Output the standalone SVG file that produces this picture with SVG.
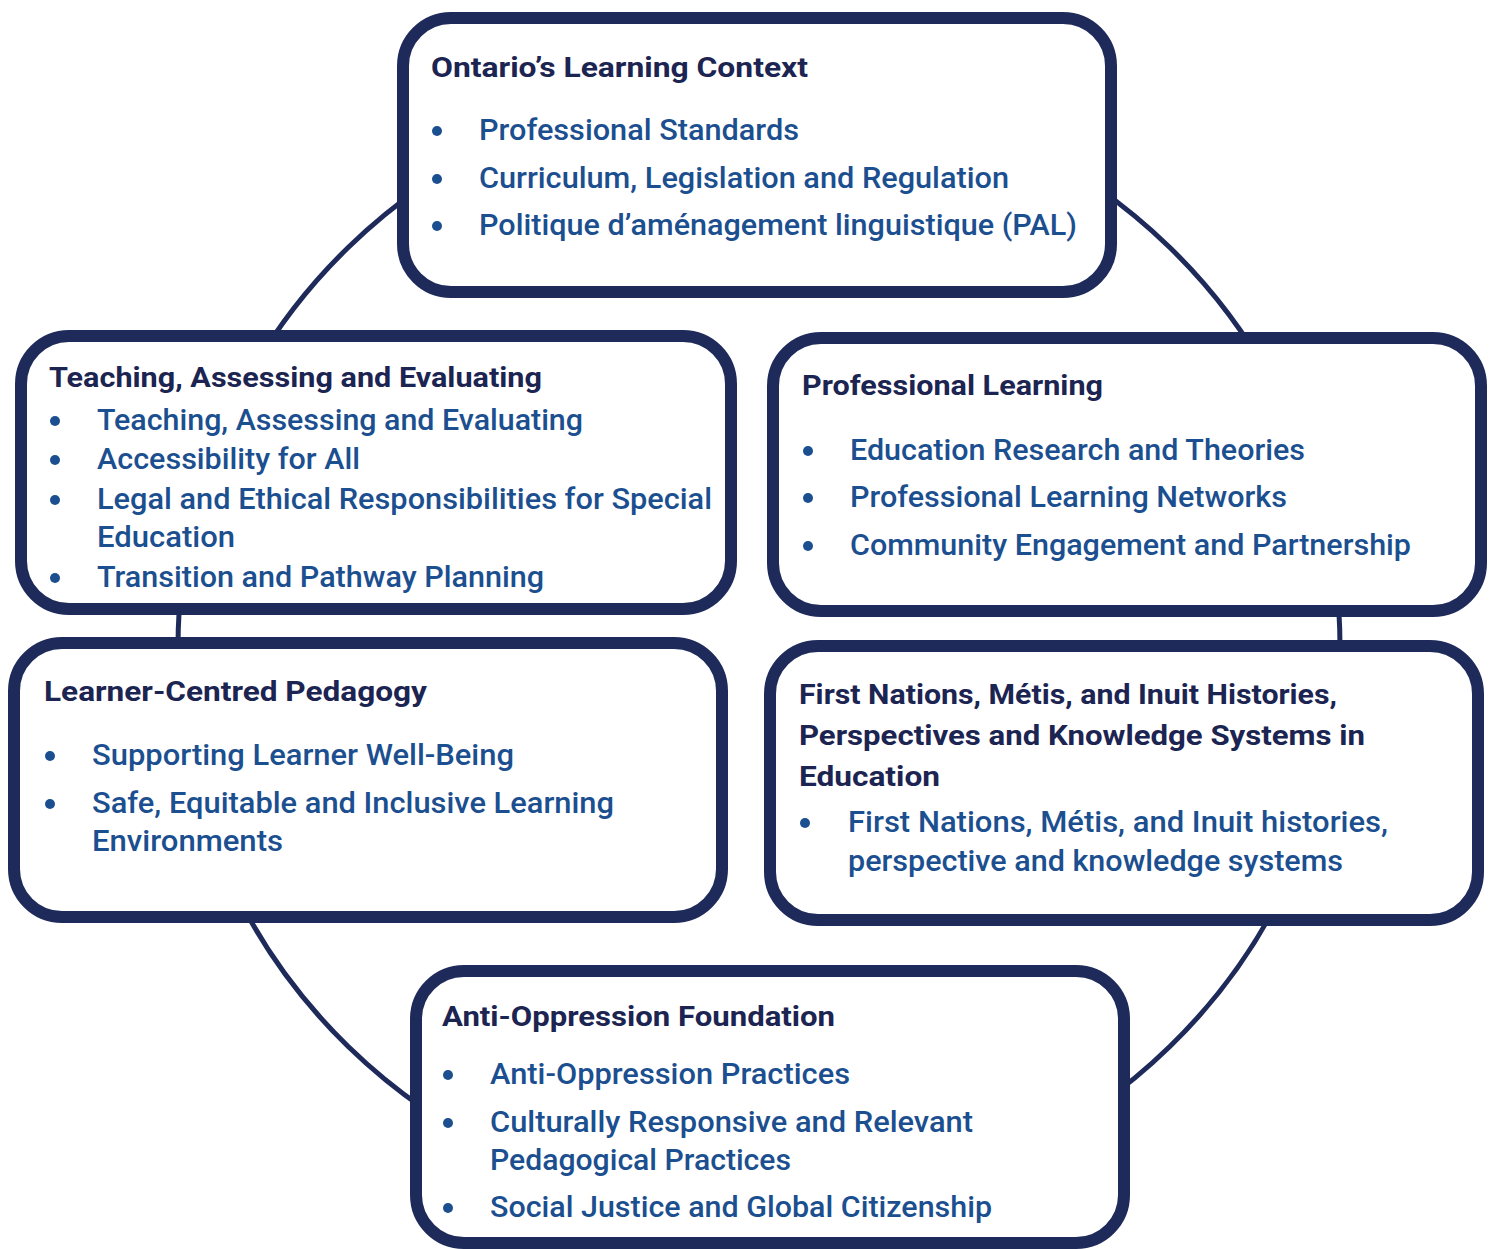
<svg xmlns="http://www.w3.org/2000/svg" width="1489" height="1249" viewBox="0 0 1489 1249">
<style>
.box{fill:#ffffff;stroke:#1e2a5a;stroke-width:12}
.ring{fill:none;stroke:#1e2a5a;stroke-width:5}
.t{font-family:Roboto,"Liberation Sans",sans-serif;font-size:28px;font-weight:700;fill:#1c2452}
.b{font-family:Roboto,"Liberation Sans",sans-serif;font-size:29px;font-weight:500;fill:#1b4f8f}
.dot{fill:#1b4f8f}
</style>
<rect width="1489" height="1249" fill="#ffffff"/>
<g id="connectors">
<ellipse class="ring" cx="759" cy="647" rx="581" ry="565"/>
</g>
<g id="node-ontario">
<rect class="box" x="403" y="18" width="708" height="274" rx="48"/>
<text class="t" x="431" y="77" textLength="377" lengthAdjust="spacingAndGlyphs">Ontario’s Learning Context</text>
<circle class="dot" cx="437" cy="131" r="5"/>
<text class="b" x="479" y="140" textLength="320" lengthAdjust="spacingAndGlyphs">Professional Standards</text>
<circle class="dot" cx="437" cy="179" r="5"/>
<text class="b" x="479" y="188" textLength="530" lengthAdjust="spacingAndGlyphs">Curriculum, Legislation and Regulation</text>
<circle class="dot" cx="437" cy="226" r="5"/>
<text class="b" x="479" y="235" textLength="598" lengthAdjust="spacingAndGlyphs">Politique d’aménagement linguistique (PAL)</text>
</g>
<g id="node-teaching">
<rect class="box" x="21" y="336" width="710" height="273" rx="48"/>
<text class="t" x="49" y="387" textLength="493" lengthAdjust="spacingAndGlyphs">Teaching, Assessing and Evaluating</text>
<circle class="dot" cx="55" cy="421" r="5"/>
<text class="b" x="97" y="430" textLength="486" lengthAdjust="spacingAndGlyphs">Teaching, Assessing and Evaluating</text>
<circle class="dot" cx="55" cy="460" r="5"/>
<text class="b" x="97" y="469" textLength="263" lengthAdjust="spacingAndGlyphs">Accessibility for All</text>
<circle class="dot" cx="55" cy="500" r="5"/>
<text class="b" x="97" y="509" textLength="615" lengthAdjust="spacingAndGlyphs">Legal and Ethical Responsibilities for Special</text>
<text class="b" x="97" y="547" textLength="138" lengthAdjust="spacingAndGlyphs">Education</text>
<circle class="dot" cx="55" cy="578" r="5"/>
<text class="b" x="97" y="587" textLength="447" lengthAdjust="spacingAndGlyphs">Transition and Pathway Planning</text>
</g>
<g id="node-professional">
<rect class="box" x="773" y="338" width="708" height="273" rx="48"/>
<text class="t" x="802" y="395" textLength="301" lengthAdjust="spacingAndGlyphs">Professional Learning</text>
<circle class="dot" cx="808" cy="451" r="5"/>
<text class="b" x="850" y="460" textLength="455" lengthAdjust="spacingAndGlyphs">Education Research and Theories</text>
<circle class="dot" cx="808" cy="498" r="5"/>
<text class="b" x="850" y="507" textLength="437" lengthAdjust="spacingAndGlyphs">Professional Learning Networks</text>
<circle class="dot" cx="808" cy="546" r="5"/>
<text class="b" x="850" y="555" textLength="561" lengthAdjust="spacingAndGlyphs">Community Engagement and Partnership</text>
</g>
<g id="node-learner">
<rect class="box" x="14" y="643" width="708" height="274" rx="48"/>
<text class="t" x="44" y="701" textLength="383" lengthAdjust="spacingAndGlyphs">Learner-Centred Pedagogy</text>
<circle class="dot" cx="50" cy="756" r="5"/>
<text class="b" x="92" y="765" textLength="422" lengthAdjust="spacingAndGlyphs">Supporting Learner Well-Being</text>
<circle class="dot" cx="50" cy="804" r="5"/>
<text class="b" x="92" y="813" textLength="522" lengthAdjust="spacingAndGlyphs">Safe, Equitable and Inclusive Learning</text>
<text class="b" x="92" y="851" textLength="191" lengthAdjust="spacingAndGlyphs">Environments</text>
</g>
<g id="node-firstnations">
<rect class="box" x="770" y="646" width="708" height="274" rx="48"/>
<text class="t" x="799" y="704" textLength="538" lengthAdjust="spacingAndGlyphs">First Nations, Métis, and Inuit Histories,</text>
<text class="t" x="799" y="745" textLength="566" lengthAdjust="spacingAndGlyphs">Perspectives and Knowledge Systems in</text>
<text class="t" x="799" y="786" textLength="141" lengthAdjust="spacingAndGlyphs">Education</text>
<circle class="dot" cx="805" cy="823" r="5"/>
<text class="b" x="848" y="832" textLength="540" lengthAdjust="spacingAndGlyphs">First Nations, Métis, and Inuit histories,</text>
<text class="b" x="848" y="871" textLength="495" lengthAdjust="spacingAndGlyphs">perspective and knowledge systems</text>
</g>
<g id="node-antioppression">
<rect class="box" x="416" y="971" width="708" height="272" rx="48"/>
<text class="t" x="442" y="1026" textLength="393" lengthAdjust="spacingAndGlyphs">Anti-Oppression Foundation</text>
<circle class="dot" cx="448" cy="1075" r="5"/>
<text class="b" x="490" y="1084" textLength="360" lengthAdjust="spacingAndGlyphs">Anti-Oppression Practices</text>
<circle class="dot" cx="448" cy="1123" r="5"/>
<text class="b" x="490" y="1132" textLength="483" lengthAdjust="spacingAndGlyphs">Culturally Responsive and Relevant</text>
<text class="b" x="490" y="1170" textLength="301" lengthAdjust="spacingAndGlyphs">Pedagogical Practices</text>
<circle class="dot" cx="448" cy="1208" r="5"/>
<text class="b" x="490" y="1217" textLength="502" lengthAdjust="spacingAndGlyphs">Social Justice and Global Citizenship</text>
</g>
</svg>
